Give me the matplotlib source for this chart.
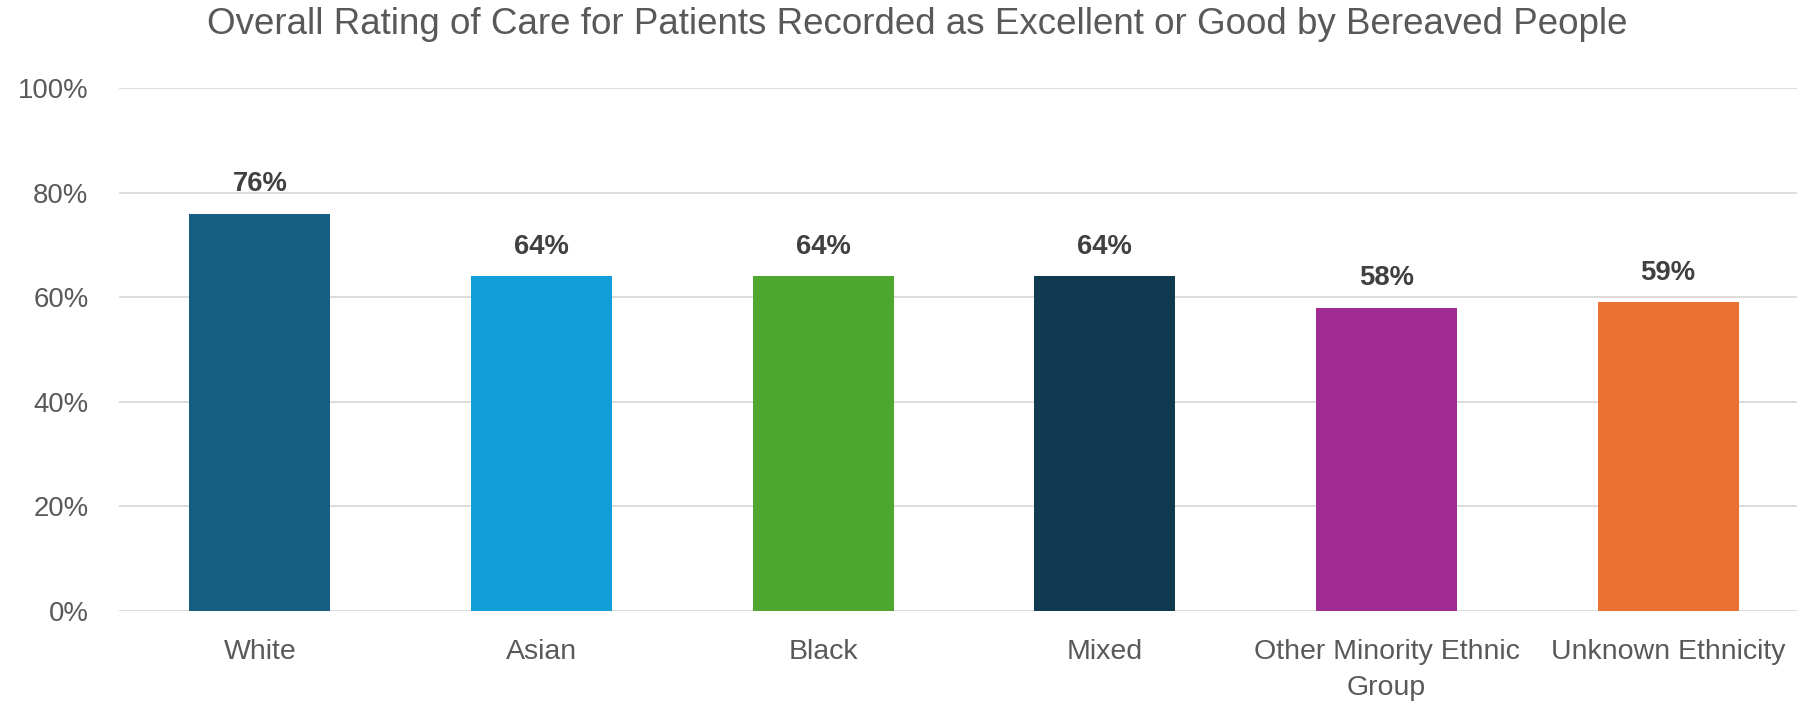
import matplotlib
matplotlib.use("Agg")
import matplotlib.pyplot as plt
from matplotlib.ticker import PercentFormatter

# Bereaved people's rating of care, by patient ethnicity (% excellent or good)
CATEGORIES = ["White", "Asian", "Black", "Mixed", "Other Minority Ethnic\nGroup", "Unknown Ethnicity"]
PCT_EXCELLENT_GOOD = [76, 64, 64, 64, 58, 59]
BAR_COLORS = ["#156082", "#129FD8", "#4EA72E", "#0F3A50", "#A02B93", "#E97132"]

TITLE = "Overall Rating of Care for Patients Recorded as Excellent or Good by Bereaved People"
TEXT_GREY = "#595959"
LABEL_GREY = "#404040"
GRID_GREY = "#D9D9D9"

plt.rcParams["font.family"] = ["Liberation Sans", "DejaVu Sans"]

W, H = 1797, 705
fig = plt.figure(figsize=(W / 100, H / 100), dpi=100)
# axes box in pixel terms: y=0% at 611px, y=100% at 88px, categories spaced ~282px
left, right = 119, 1809
bottom, top = H - 611, H - 88
ax = fig.add_axes([left / W, bottom / H, (right - left) / W, (top - bottom) / H])

x = range(len(CATEGORIES))
bars = ax.bar(x, PCT_EXCELLENT_GOOD, width=0.5, color=BAR_COLORS, zorder=3)

for bar, v in zip(bars, PCT_EXCELLENT_GOOD):
    ax.annotate(f"{v}%", (bar.get_x() + bar.get_width() / 2, v),
                xytext=(0, 12), textcoords="offset points",
                ha="center", va="bottom", fontsize=19.8, fontweight="bold",
                color=LABEL_GREY)

ax.set_xlim(-0.5, len(CATEGORIES) - 0.5)
ax.set_ylim(0, 100)
ax.set_yticks(range(0, 101, 20))
ax.yaxis.set_major_formatter(PercentFormatter(decimals=0))
ax.set_xticks(list(x))
ax.set_xticklabels(CATEGORIES, linespacing=1.5)

ax.tick_params(axis="y", length=0, pad=22, labelsize=19.8, labelcolor=TEXT_GREY)
ax.tick_params(axis="x", length=0, pad=20, labelsize=20.5, labelcolor=TEXT_GREY)
ax.grid(axis="y", color=GRID_GREY, linewidth=1.3, zorder=0)
for side in ax.spines.values():
    side.set_visible(False)

fig.text(917 / W, 1 - 25 / H, TITLE, ha="center", va="center",
         fontsize=26.5, color=TEXT_GREY)

fig.savefig("out.png", dpi=100)
